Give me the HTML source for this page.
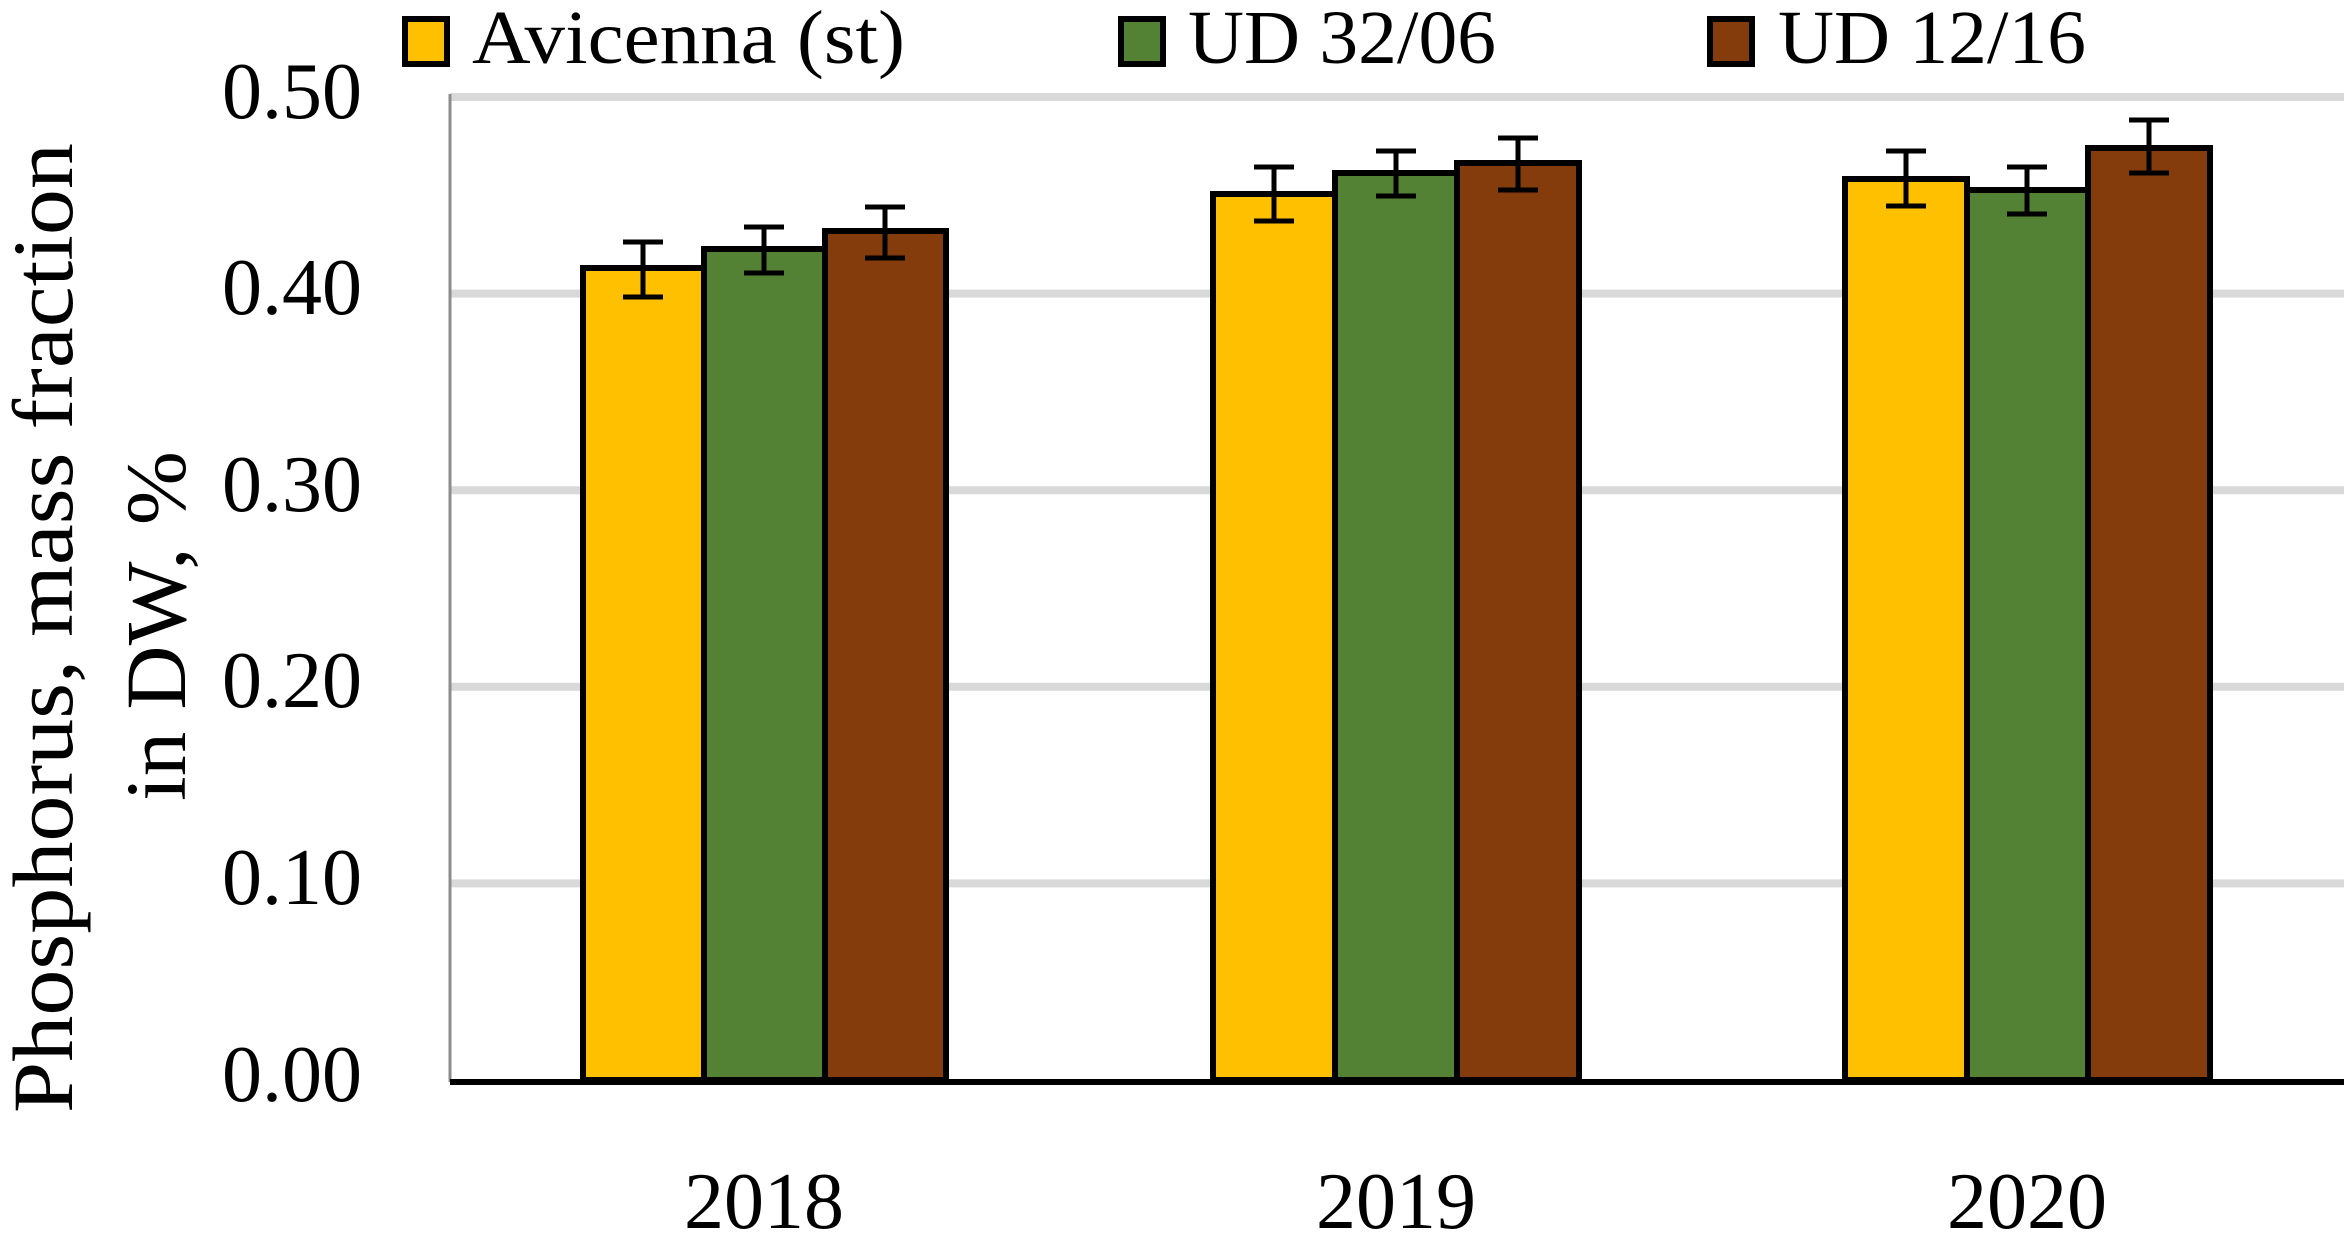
<!DOCTYPE html>
<html><head><meta charset="utf-8"><style>html,body{margin:0;padding:0;background:#fff;}svg{display:block}</style></head>
<body>
<svg width="2344" height="1237" viewBox="0 0 2344 1237" xmlns="http://www.w3.org/2000/svg" font-family="'Liberation Serif', serif">
<g stroke="#d9d9d9" stroke-width="8">
<line x1="450" y1="97" x2="2344" y2="97"/>
<line x1="450" y1="293.6" x2="2344" y2="293.6"/>
<line x1="450" y1="490.2" x2="2344" y2="490.2"/>
<line x1="450" y1="686.8" x2="2344" y2="686.8"/>
<line x1="450" y1="883.4" x2="2344" y2="883.4"/>
</g>
<line x1="450" y1="94" x2="450" y2="1082" stroke="#8c8c8c" stroke-width="3"/>
<g font-size="80" text-anchor="end" fill="#000">
<text x="362" y="118">0.50</text>
<text x="362" y="314">0.40</text>
<text x="362" y="511">0.30</text>
<text x="362" y="707">0.20</text>
<text x="362" y="904">0.10</text>
<text x="362" y="1101">0.00</text>
</g>
<g stroke="#000" stroke-width="6">
<rect x="583" y="268" width="121" height="812" fill="#ffc000"/>
<rect x="704" y="249" width="121" height="831" fill="#548235"/>
<rect x="825" y="231" width="121" height="849" fill="#843c0c"/>
<rect x="1213" y="194" width="122" height="886" fill="#ffc000"/>
<rect x="1335" y="173" width="122" height="907" fill="#548235"/>
<rect x="1457" y="163" width="122" height="917" fill="#843c0c"/>
<rect x="1845" y="179" width="122" height="901" fill="#ffc000"/>
<rect x="1967" y="190" width="121" height="890" fill="#548235"/>
<rect x="2088" y="148" width="122" height="932" fill="#843c0c"/>
</g>
<g stroke="#000" stroke-width="5" fill="none">
<path d="M643 242V297M623 242H663M623 297H663"/>
<path d="M764 227V273M744 227H784M744 273H784"/>
<path d="M885 207V258M865 207H905M865 258H905"/>
<path d="M1274 167V221M1254 167H1294M1254 221H1294"/>
<path d="M1396 151V196M1376 151H1416M1376 196H1416"/>
<path d="M1518 138V190M1498 138H1538M1498 190H1538"/>
<path d="M1906 151V206M1886 151H1926M1886 206H1926"/>
<path d="M2027 167V214M2007 167H2047M2007 214H2047"/>
<path d="M2149 120V173M2129 120H2169M2129 173H2169"/>
</g>
<line x1="450" y1="1082" x2="2344" y2="1082" stroke="#000" stroke-width="6"/>
<g font-size="80" text-anchor="middle">
<text x="764" y="1228">2018</text>
<text x="1396" y="1228">2019</text>
<text x="2027" y="1228">2020</text>
</g>
<g stroke="#000" stroke-width="6">
<rect x="405" y="19" width="42" height="45" fill="#ffc000"/>
<rect x="1121" y="19" width="42" height="45" fill="#548235"/>
<rect x="1710" y="19" width="42" height="45" fill="#843c0c"/>
</g>
<g font-size="76">
<text x="472" y="63" textLength="433" lengthAdjust="spacingAndGlyphs">Avicenna (st)</text>
<text x="1188" y="63" textLength="308" lengthAdjust="spacingAndGlyphs">UD 32/06</text>
<text x="1778" y="63" textLength="308" lengthAdjust="spacingAndGlyphs">UD 12/16</text>
</g>
<g font-size="86" text-anchor="middle">
<text transform="translate(72,628) rotate(-90)" textLength="970" lengthAdjust="spacingAndGlyphs">Phosphorus, mass fraction</text>
<text transform="translate(185,626) rotate(-90)" textLength="350" lengthAdjust="spacingAndGlyphs">in DW, %</text>
</g>
</svg>
</body></html>
